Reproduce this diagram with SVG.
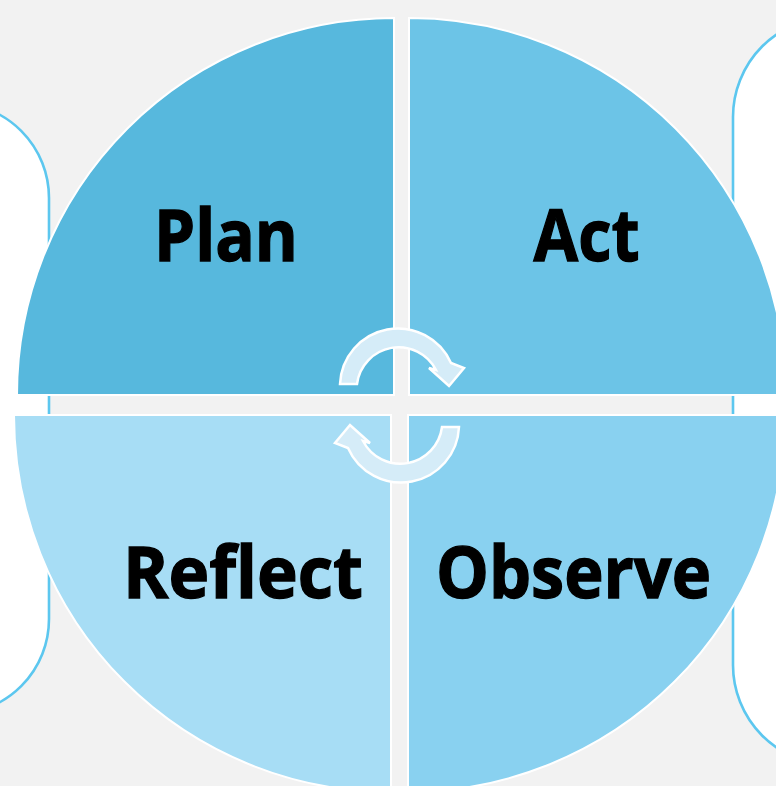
<svg xmlns="http://www.w3.org/2000/svg" width="776" height="786" viewBox="0 0 776 786">
<style>
.side{fill:#ffffff;stroke:#5cc7ef;stroke-width:2.6}
.quad{stroke:#ffffff;stroke-width:2}
.lbl{font-family:"Open Sans","Lato","Liberation Sans",sans-serif;font-weight:bold;font-size:71px;fill:#000000;stroke:#000000;stroke-width:1.3;text-anchor:middle}
.arr{fill:#d5ecf8;stroke:#ffffff;stroke-width:2.5;stroke-linejoin:miter}
</style>
<defs>
<path id="cyc" d="M340,384 A58,58 0 0 1 451,363 L464,368 L449,386 L429,368 L436,370 A42,42 0 0 0 357,384 Z"/>
</defs>
<rect x="0" y="0" width="776" height="786" fill="#f2f2f2"/>
<g id="side-left"><rect class="side" x="-200" y="103" width="249" height="611" rx="95" ry="95"/></g>
<g id="side-right"><rect class="side" x="733" y="17" width="260" height="748" rx="100" ry="100"/></g>
<g id="plan">
<path class="quad" fill="#57b8dd" d="M394,395 L17,395 A377,377 0 0 1 394,18 Z"/>
<text class="lbl" x="226" y="261" textLength="144" lengthAdjust="spacingAndGlyphs">Plan</text>
</g>
<g id="act">
<path class="quad" fill="#6cc4e7" d="M409,395 L409,18 A377,377 0 0 1 786,395 Z"/>
<text class="lbl" x="586.5" y="261" textLength="106" lengthAdjust="spacingAndGlyphs">Act</text>
</g>
<g id="reflect">
<path class="quad" fill="#a7ddf5" d="M391,415 L391,792 A377,377 0 0 1 14,415 Z"/>
<text class="lbl" x="243" y="598" textLength="240" lengthAdjust="spacingAndGlyphs">Reflect</text>
</g>
<g id="observe">
<path class="quad" fill="#89d1f0" d="M408,415 L785,415 A377,377 0 0 1 408,792 Z"/>
<text class="lbl" x="573.5" y="598" textLength="275" lengthAdjust="spacingAndGlyphs">Observe</text>
</g>
<g id="connectors">
<use href="#cyc" class="arr"/>
<use href="#cyc" class="arr" transform="rotate(180 399.5 405.5)"/>
</g>
</svg>
